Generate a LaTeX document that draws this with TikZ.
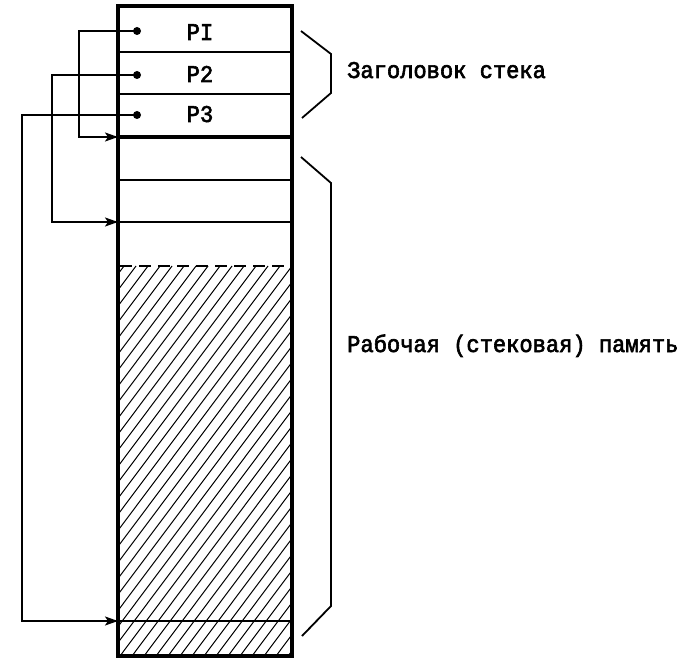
\documentclass[tikz,border=0pt]{standalone}
\usepackage{fontspec}
\newfontfamily\tw[FakeStretch=0.92,FakeBold=2.5]{Liberation Mono}
\usetikzlibrary{arrows.meta}
\begin{document}
\begin{tikzpicture}[x=1pt,y=-1pt,
  thinline/.style={line width=1.7pt},
  thickline/.style={line width=3.8pt},
  wire/.style={line width=1.8pt,-{Stealth[length=13pt,width=9pt,inset=3pt]}},
  dot/.style={circle,fill,inner sep=0pt,minimum size=8pt},
  lbl/.style={font=\tw\fontsize{24}{24}\selectfont,inner sep=0pt},
  brace/.style={line width=1.8pt,line join=miter}]
\useasboundingbox (0,0) rectangle (677,660);
% hatching
\begin{scope}
  \clip (119,266) rectangle (291,655);
  \foreach \i in {-27,...,15} {\draw[line width=1pt] (120+\i*12,656) -- ++(292,-390);}
\end{scope}
% box
\draw[thickline] (118,6) rectangle (292,656);
\draw[thinline] (118,52) -- (292,52);
\draw[thinline] (118,94) -- (292,94);
\draw[thickline] (118,137) -- (292,137);
\draw[thinline] (118,180) -- (292,180);
\draw[thinline] (118,222) -- (292,222);
\draw[line width=2.2pt,dash pattern=on 12pt off 7pt] (120,266) -- (290,266);
\draw[line width=2.6pt] (118,621) -- (292,621);
% labels in cells
\node[lbl,anchor=base] (p1) at (200,40) {PI};
\node[lbl,anchor=base] (p2) at (200,82) {P2};
\node[lbl,anchor=base] (p3) at (200,122) {P3};
% dots and targets
\node[dot] (d1) at (137,31) {};
\node[dot] (d2) at (137,75) {};
\node[dot] (d3) at (137,115) {};
\coordinate (t1) at (118,137);
\coordinate (t2) at (118,222);
\coordinate (t3) at (118,621);
\draw[wire] (d1.center) -- (79,31) |- (t1);
\draw[wire] (d2.center) -- (52,75) |- (t2);
\draw[wire] (d3.center) -- (22,115) |- (t3);
% braces
\draw[brace] (301,31) -- (331,54) -- (331,93) -- (302,118);
\draw[brace] (301,157) -- (331,183) -- (331,606) -- (302,636);
% side labels
\node[lbl,anchor=base west] (hdr) at (347,78) {Заголовок стека};
\node[lbl,anchor=base west] (mem) at (347,352) {Рабочая (стековая) память};
\end{tikzpicture}
\end{document}
